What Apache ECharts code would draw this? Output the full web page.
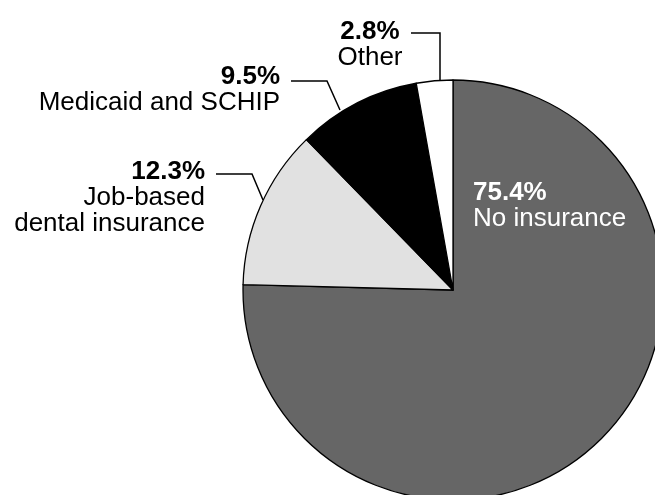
<!DOCTYPE html>
<html><head><meta charset="utf-8">
<script src="https://cdn.jsdelivr.net/npm/echarts@6/dist/echarts.min.js"></script>
<style>html,body{margin:0;padding:0;background:#fff}#c{width:655px;height:495px}</style>
</head><body><div id="c"></div>
<script>
const categories = ['No insurance', 'Job-based\ndental insurance', 'Medicaid and SCHIP', 'Other'];
const values = [75.4, 12.3, 9.5, 2.8];
const colors = ['#666666', '#e1e1e1', '#000000', '#ffffff'];

// label anchors and leader lines
const labelPos = [
  {x: 473, y: 206, align: 'left', line: null},
  {x: 205, y: 198, align: 'right', line: [[263, 200], [252, 174], [216, 174]]},
  {x: 280, y: 90, align: 'right', line: [[340, 110], [327, 81], [291, 81]]},
  {x: 370, y: 45, align: 'center', line: [[440, 80], [440, 33], [411, 33]]}
];

const chart = echarts.init(document.getElementById('c'));
const data = values.map((v, i) => ({
  value: v,
  name: categories[i],
  itemStyle: {color: colors[i]},
  label: {
    color: i === 0 ? '#ffffff' : '#000000',
    rich: {
      p: {fontWeight: 'bold', fontSize: 26, lineHeight: 25, color: i === 0 ? '#fff' : '#000', fontFamily: 'Liberation Sans', align: labelPos[i].align},
      n: {fontSize: 26, lineHeight: 26, color: i === 0 ? '#fff' : '#000', fontFamily: 'Liberation Sans', align: labelPos[i].align}
    }
  },
  labelLine: {show: i !== 0}
}));

chart.setOption({
  animation: false,
  series: [{
    type: 'pie',
    center: [453, 290],
    radius: 210,
    startAngle: 90,
    clockwise: true,
    data: data,
    itemStyle: {borderColor: '#000', borderWidth: 1.3},
    label: {
      show: true,
      position: 'outside',
      overflow: 'none',
      formatter: p => '{p|' + p.value.toFixed(1) + '%}\n' + p.name.split('\n').map(s => '{n|' + s + '}').join('\n')
    },
    labelLine: {show: true, lineStyle: {color: '#000', width: 1.5}, length: 10, length2: 10},
    labelLayout: function (params) {
      const lp = labelPos[params.dataIndex];
      const r = {x: lp.x, y: lp.y, align: lp.align, verticalAlign: 'middle'};
      if (lp.line) r.labelLinePoints = lp.line;
      return r;
    }
  }]
});
</script>
</body></html>
